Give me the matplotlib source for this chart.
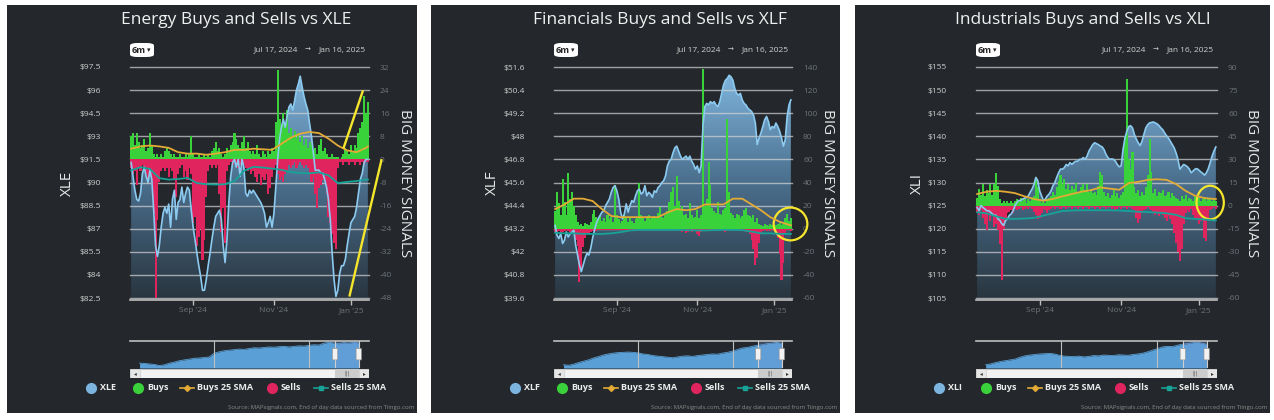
import numpy as np
import pandas as pd
import matplotlib
matplotlib.use("Agg")
import matplotlib.pyplot as plt
from matplotlib.patches import Rectangle, FancyBboxPatch, Ellipse, Polygon
from matplotlib.colors import LinearSegmentedColormap
from matplotlib.lines import Line2D

plt.rcParams['font.family'] = ['Open Sans', 'DejaVu Sans']

W, H, DPI = 1274, 420, 100

# ---------------- dates (trading days shown in the 6m window) ----------------
HOLIDAYS = ['2024-09-02', '2024-11-28', '2024-12-25', '2025-01-01', '2025-01-09']
dates = pd.bdate_range('2024-07-17', '2025-01-16')
dates = dates[~dates.isin(pd.to_datetime(HOLIDAYS))]
MONTH_TICKS = ['2024-09', '2024-11', '2025-01']
MONTH_LABELS = ["Sep '24", "Nov '24", "Jan '25"]
SMA_IDX = list(range(0, 126, 5)) + [126]

# ---------------- Energy / XLE ----------------
xle_price = [91.3, 90.4, 89.5, 88.9, 88.8, 89.3, 90.6, 91.0, 90.4, 90.0,
             90.8, 90.2, 88.2, 85.9, 85.2, 85.9, 87.1, 88.0, 88.4, 88.0,
             88.6, 87.1, 88.9, 89.5, 87.6, 88.7, 88.9, 89.7, 88.7, 89.3,
             89.7, 89.5, 88.2, 87.1, 86.3, 85.4, 84.6, 83.9, 83.0, 83.0,
             83.7, 84.6, 85.4, 86.3, 87.1, 87.8, 88.0, 88.2, 87.6, 85.9,
             84.8, 86.3, 88.7, 90.4, 91.3, 91.5, 91.0, 91.5, 90.4, 91.5,
             91.0, 89.3, 89.1, 89.5, 89.3, 89.5, 89.3, 89.1, 88.9, 88.7,
             88.4, 88.0, 87.1, 87.4, 87.8, 87.1, 88.0, 89.7, 91.5, 92.8,
             93.6, 94.1, 93.6, 94.3, 94.9, 95.1, 94.7, 95.3, 96.0, 96.4,
             96.9, 96.2, 95.6, 95.1, 94.7, 93.8, 93.0, 91.9, 90.8, 90.8,
             90.8, 90.6, 90.6, 90.2, 89.7, 88.9, 87.6, 85.4, 83.7, 82.6,
             83.0, 84.1, 84.6, 84.6, 85.0, 85.9, 86.7, 87.4, 87.6, 87.8,
             88.4, 89.3, 90.2, 90.6, 91.3, 91.5, 91.5]
xle_buys = [8, 9, 5, 9, 6, 4, 5, 7, 3, 4, 9, 5, 2, 1, 2, 1, 2, 1, 3, 4,
            3, 2, 1, 2, 1, 1, 2, 1, 1, 2, 1, 2, 8, 2, 1, 1, 2, 1, 1, 2,
            1, 2, 1, 3, 4, 6, 3, 4, 2, 1, 2, 4, 3, 5, 6, 9, 7, 5, 4, 6,
            8, 4, 6, 3, 2, 3, 2, 5, 2, 1, 3, 2, 1, 3, 2, 4, 3, 13, 31, 14,
            12, 16, 11, 17, 9, 11, 8, 10, 7, 9, 6, 8, 5, 7, 4, 6, 5, 3, 4, 2,
            5, 7, 3, 4, 2, 1, 1, 2, 1, 1, 1, 0, 1, 2, 4, 3, 2, 5, 3, 5,
            4, 9, 11, 13, 22, 16, 20]
xle_sells = [-3, -5, -4, -9, -3, -4, -2, -3, -5, -7, -4, -9, -19, -48, -21, -8, -4, -3, -4, -3,
             -6, -3, -4, -7, -13, -5, -3, -2, -6, -4, -7, -3, -5, -22, -20, -30, -27, -24, -35, -28,
             -13, -4, -2, -3, -2, -3, -2, -12, -25, -17, -29, -4, -2, -1, -2, -1, -2, -3, -2, -1,
             -2, -3, -4, -3, -5, -4, -6, -8, -5, -9, -6, -7, -5, -12, -10, -6, -3, -2, -5, -7,
             -6, -8, -5, -4, -2, -3, -2, -1, -3, -2, -1, -2, -3, -2, -3, -5, -8, -6, -12, -17,
             -10, -9, -7, -8, -12, -20, -22, -26, -29, -31, -3, -1, -1, -2, -1, -1, -2, -1, -1, -2,
             -1, -1, -2, -1, -2, -1, -1]
xle_buys_sma = [3.7, 4.5, 4.8, 4.5, 4.0, 2.5, 2.0, 2.0, 1.6, 2.0, 2.5, 3.3, 3.3, 3.7,
                3.5, 3.3, 5.4, 7.5, 8.9, 9.5, 9.1, 7.2, 4.8, 3.1, 2.5, 4.0, 4.5]
xle_sells_sma = [-3.8, -2.7, -3.3, -6.5, -7.0, -6.8, -6.4, -8.2, -8.6, -8.7, -8.6, -7.5, -4.0, -2.6,
                 -2.8, -3.2, -3.6, -4.4, -4.7, -4.8, -4.5, -5.5, -8.2, -7.8, -7.5, -7.0, -7.0]
xle_nav = [0.18, 0.17, 0.15, 0.13, 0.09, 0.12, 0.18, 0.22, 0.27, 0.30, 0.33, 0.36, 0.37, 0.39,
           0.41, 0.55, 0.60, 0.64, 0.66, 0.68, 0.70, 0.69, 0.72, 0.75, 0.74, 0.76, 0.78, 0.77,
           0.79, 0.80, 0.78, 0.80, 0.82, 0.81, 0.84, 0.86, 0.85, 0.92, 0.95, 0.93, 0.90, 0.94,
           0.92, 0.95, 0.93]
xle_price_ticks = [97.5, 96, 94.5, 93, 91.5, 90, 88.5, 87, 85.5, 84, 82.5]
xle_signal_ticks = [32, 24, 16, 8, 0, -8, -16, -24, -32, -40, -48]

# ---------------- Financials / XLF ----------------
xlf_price = [43.37, 42.86, 42.69, 42.94, 42.43, 42.60, 43.03, 42.77, 42.94, 43.03,
             43.12, 42.34, 41.83, 41.31, 40.97, 41.31, 41.66, 41.92, 41.83, 42.17,
             42.69, 43.12, 43.46, 43.72, 43.89, 44.06, 44.14, 44.40, 44.57, 44.74,
             45.09, 45.34, 45.43, 45.17, 44.74, 44.06, 43.72, 43.97, 44.49, 44.06,
             44.40, 44.66, 44.57, 44.91, 45.17, 45.26, 45.00, 45.09, 45.43, 44.91,
             45.09, 45.00, 44.83, 45.17, 45.09, 45.34, 45.43, 45.60, 45.69, 45.94,
             46.46, 46.71, 46.80, 47.14, 47.40, 47.49, 47.23, 46.97, 46.80, 46.89,
             46.97, 46.80, 46.97, 46.71, 46.54, 46.29, 46.46, 46.11, 46.46, 48.51,
             49.54, 49.71, 49.63, 49.80, 49.71, 49.80, 49.63, 49.54, 49.80, 50.23,
             50.66, 50.91, 51.00, 51.17, 51.09, 50.91, 50.49, 50.23, 50.14, 50.23,
             49.89, 49.71, 49.63, 49.46, 49.37, 49.29, 49.11, 48.69, 47.57, 47.91,
             48.17, 48.51, 48.86, 49.03, 48.77, 48.34, 48.51, 48.43, 48.69, 48.51,
             48.26, 47.91, 47.49, 47.83, 49.03, 49.63, 49.89]
xlf_buys = [15, 32, 22, 12, 43, 23, 12, 48, 26, 32, 20, 12, 6, 3, 4, 2, 5, 4, 3, 6,
            13, 16, 10, 8, 11, 7, 9, 6, 12, 8, 10, 6, 38, 12, 8, 5, 7, 12, 9, 6,
            9, 7, 5, 8, 10, 40, 12, 9, 7, 11, 12, 8, 10, 11, 9, 14, 19, 10, 9, 12,
            15, 23, 32, 36, 20, 46, 24, 16, 20, 12, 13, 9, 22, 12, 9, 10, 16, 9, 12, 138,
            20, 26, 58, 38, 18, 15, 14, 23, 13, 12, 16, 18, 95, 32, 14, 12, 9, 13, 12, 9,
            11, 16, 18, 12, 11, 9, 12, 6, 9, 4, 3, 2, 4, 3, 2, 4, 3, 2, 3, 4,
            5, 3, 4, 9, 13, 7, 9]
xlf_sells = [-3, -4, -2, -5, -3, -2, -1, -2, -3, -2, -4, -10, -15, -46, -36, -16, -8, -4, -5, -3,
             -2, -1, -2, -1, -1, -1, -1, -1, -1, -1, -1, -1, -1, -1, -1, -1, -1, -1, -1, -1,
             -1, -1, -1, -1, -1, -1, -1, -1, -1, -1, -1, -1, -1, -1, -1, -1, -1, -1, -1, -1,
             -1, -1, -1, -1, -1, -1, -1, -2, -3, -2, -4, -3, -2, -3, -1, -2, -5, -6, -3, -1,
             -1, -1, -1, -1, -1, -1, -1, -1, -1, -1, -2, -3, -2, -1, -1, -1, -1, -1, -1, -1,
             -2, -1, -3, -2, -5, -10, -18, -31, -25, -12, -4, -2, -1, -2, -1, -2, -1, -2, -3, -8,
             -22, -44, -30, -5, -1, -1, -2]
xlf_buys_sma = [17, 21, 26, 26, 24, 17, 11, 10, 10, 10, 10, 10, 14, 17,
                16, 17, 21, 21, 21, 26, 26, 21, 16, 10, 6, 3.4, 3]
xlf_sells_sma = [-3.5, -4, -4, -4.5, -4.5, -4.5, -4, -3, -1.5, -1, -1, -1, -1, -1,
                 -1.2, -1.5, -1.5, -1.2, -1, -1, -1.2, -2.5, -4, -4, -4.5, -4.5, -4.5]
xlf_nav = [0.12, 0.10, 0.14, 0.20, 0.25, 0.30, 0.37, 0.42, 0.48, 0.52, 0.55, 0.57, 0.58, 0.59,
           0.58, 0.56, 0.52, 0.50, 0.46, 0.44, 0.42, 0.40, 0.38, 0.41, 0.44, 0.45, 0.43, 0.46,
           0.48, 0.50, 0.52, 0.51, 0.55, 0.58, 0.62, 0.68, 0.74, 0.76, 0.80, 0.84, 0.86, 0.90,
           0.92, 0.95, 0.90]
xlf_price_ticks = [51.6, 50.4, 49.2, 48, 46.8, 45.6, 44.4, 43.2, 42, 40.8, 39.6]
xlf_signal_ticks = [140, 120, 100, 80, 60, 40, 20, 0, -20, -40, -60]

# ---------------- Industrials / XLI ----------------
xli_price = [124.6, 123.9, 125.0, 124.6, 124.3, 123.9, 123.9, 123.6, 123.2, 122.9,
             122.9, 122.1, 121.8, 121.1, 120.7, 121.8, 122.1, 122.9, 123.2, 123.9,
             125.0, 125.7, 126.1, 126.1, 126.4, 126.6, 126.8, 127.1, 127.9, 128.6,
             129.6, 131.1, 130.4, 128.2, 127.1, 126.1, 126.4, 127.1, 127.5, 128.2,
             129.3, 130.0, 131.1, 132.1, 132.9, 132.9, 133.2, 133.9, 133.6, 134.3,
             133.9, 134.3, 134.6, 134.6, 135.0, 135.0, 135.4, 135.0, 135.7, 136.8,
             137.5, 138.2, 138.6, 138.4, 138.2, 137.9, 137.7, 137.1, 136.1, 135.4,
             135.0, 135.1, 135.0, 134.6, 133.9, 133.4, 133.6, 137.1, 139.6, 141.1,
             142.1, 142.3, 141.8, 140.4, 139.4, 138.6, 138.0, 138.9, 140.4, 141.8,
             142.5, 142.9, 143.0, 143.1, 142.9, 142.7, 142.3, 141.8, 141.4, 140.7,
             140.1, 139.6, 138.9, 138.2, 137.5, 136.4, 135.0, 132.9, 133.4, 133.9,
             133.7, 133.4, 132.9, 132.1, 132.5, 132.9, 133.0, 132.7, 132.3, 132.0,
             131.6, 132.1, 133.0, 134.3, 135.7, 136.8, 137.7]
xli_buys = [5, 11, 7, 14, 6, 10, 8, 14, 7, 14, 21, 13, 4, 2, 3, 2, 3, 2, 3, 2,
            3, 4, 3, 5, 3, 4, 2, 4, 3, 5, 6, 18, 12, 4, 2, 3, 2, 4, 5, 6,
            9, 7, 12, 16, 20, 14, 17, 11, 14, 10, 13, 11, 15, 9, 8, 12, 14, 10, 14, 9,
            11, 8, 9, 7, 13, 22, 20, 9, 6, 8, 5, 7, 11, 6, 8, 5, 7, 9, 45, 82,
            30, 24, 35, 12, 8, 10, 6, 9, 7, 12, 20, 43, 22, 8, 11, 6, 9, 8, 10, 6,
            7, 9, 5, 8, 6, 5, 4, 3, 6, 4, 7, 3, 5, 4, 3, 6, 4, 5, 3, 4,
            5, 3, 4, 5, 3, 4, 3]
xli_sells = [-4, -6, -3, -8, -12, -16, -5, -10, -7, -14, -12, -16, -25, -48, -15, -8, -5, -4, -3, -5,
             -2, -3, -2, -1, -3, -2, -1, -2, -1, -2, -4, -6, -9, -8, -5, -2, -3, -5, -3, -2,
             -1, -2, -1, -1, -2, -1, -1, -2, -1, -1, -2, -1, -1, -2, -1, -1, -2, -1, -1, -2,
             -1, -1, -2, -1, -1, -2, -1, -1, -2, -1, -1, -2, -1, -3, -2, -1, -2, -1, -1, -2,
             -1, -1, -2, -3, -8, -11, -9, -5, -3, -2, -1, -2, -3, -4, -6, -5, -7, -4, -6, -8,
             -10, -7, -9, -12, -18, -24, -30, -36, -28, -12, -5, -3, -4, -2, -6, -9, -8, -12, -10, -6,
             -21, -23, -8, -3, -2, -1, -2]
xli_buys_sma = [7.5, 9, 9.6, 9, 8.1, 6, 4.3, 3.2, 4.3, 6, 7.5, 9, 10, 11.8,
                11, 10.3, 14.6, 15.4, 16.7, 17.1, 16.7, 14, 9.6, 6.4, 4.9, 4.3, 4.3]
xli_sells_sma = [-4.3, -5, -7, -8.6, -8.6, -8.4, -8, -6.5, -5, -3.5, -3.2, -3, -3, -3,
                 -3, -3.2, -3.5, -4, -4.2, -4.5, -5, -6, -8.2, -8.6, -9, -9.6, -9.6]
xli_nav = [0.12, 0.15, 0.20, 0.24, 0.27, 0.30, 0.33, 0.40, 0.45, 0.48, 0.50, 0.52, 0.53, 0.54,
           0.52, 0.47, 0.44, 0.43, 0.42, 0.44, 0.41, 0.43, 0.46, 0.45, 0.48, 0.47, 0.46, 0.49,
           0.48, 0.47, 0.50, 0.52, 0.55, 0.60, 0.66, 0.72, 0.78, 0.80, 0.79, 0.84, 0.88, 0.90,
           0.93, 0.96, 0.92, 0.88]
xli_price_ticks = [155, 150, 145, 140, 135, 130, 125, 120, 115, 110, 105]
xli_signal_ticks = [90, 75, 60, 45, 30, 15, 0, -15, -30, -45, -60]

# ---------------- styling ----------------
BG = '#24282c'
GREEN = '#3ad23a'
RED = '#e0245e'
ORANGE = '#e3aa35'
TEAL = '#18a398'
LINE_BLUE = '#8ccaf0'
LEGEND_BLUE = '#7cb5e0'
YELLOW = '#f5e62c'
AREA_CMAP = LinearSegmentedColormap.from_list('area', ['#29353f', '#4a6e8c', '#82b9e2'])

PANELS = [
    dict(title='Energy Buys and Sells vs XLE', ticker='XLE', price=xle_price, buys=xle_buys,
         sells=xle_sells, bsma=xle_buys_sma, ssma=xle_sells_sma, nav=xle_nav,
         pt=xle_price_ticks, st=xle_signal_ticks,
         bg=(7, 5, 417, 413), plot=(130, 369), title_x=236, ylab_x=67, sig_x=404,
         notes=[('line', [(113.2, 4.2), (123.2, 23.5)]), ('line', [(116.3, -47.1), (133.2, -0.3)])]),
    dict(title='Financials Buys and Sells vs XLF', ticker='XLF', price=xlf_price, buys=xlf_buys,
         sells=xlf_sells, bsma=xlf_buys_sma, ssma=xlf_sells_sma, nav=xlf_nav,
         pt=xlf_price_ticks, st=xlf_signal_ticks,
         bg=(431, 5, 840, 413), plot=(554, 792), title_x=660, ylab_x=492, sig_x=828,
         notes=[('ellipse', (125.8, 4.1, 18.0, 28.4))]),
    dict(title='Industrials Buys and Sells vs XLI', ticker='XLI', price=xli_price, buys=xli_buys,
         sells=xli_sells, bsma=xli_buys_sma, ssma=xli_sells_sma, nav=xli_nav,
         pt=xli_price_ticks, st=xli_signal_ticks,
         bg=(855, 5, 1270, 413), plot=(976, 1217), title_x=1083, ylab_x=917, sig_x=1251,
         notes=[('ellipse', (123.0, 2.0, 14.4, 21.8))]),
]

NAV_GRID = [0.352, 0.751]
NAV_RANGE = (0.858, 0.957)
NAV_START = 0.04

PLOT_TOP, PLOT_BOT = 67, 300
NAV_TOP, NAV_BOT = 341, 368
SCROLL_TOP, SCROLL_BOT = 369, 378

fig = plt.figure(figsize=(W / DPI, H / DPI), dpi=DPI)
fig.patch.set_facecolor('white')


def frect(x0, y0, x1, y1):
    return [x0 / W, 1 - y1 / H, (x1 - x0) / W, (y1 - y0) / H]


def fx(x):
    return x / W


def fy(y):
    return 1 - y / H


def bare(ax):
    ax.set_facecolor('none')
    ax.set_axis_off()


tick_pos = [int(np.argmax(dates.strftime('%Y-%m') == m)) for m in MONTH_TICKS]

for g in PANELS:
    bx0, by0, bx1, by1 = g['bg']
    fig.add_artist(Rectangle((fx(bx0), fy(by1)), (bx1 - bx0) / W, (by1 - by0) / H,
                             transform=fig.transFigure, facecolor=BG, edgecolor='none', zorder=-10))
    px0, px1 = g['plot']
    rect = frect(px0, PLOT_TOP, px1, PLOT_BOT)
    price = np.array(g['price'], float)
    n = len(price)
    x = np.arange(n)
    xl = (-0.6, n - 1 + 0.6)
    pt, st = g['pt'], g['st']
    frac = 2.0 / (PLOT_BOT - PLOT_TOP - 2)
    pyl = (pt[-1] - (pt[0] - pt[-1]) * frac, pt[0])
    syl = (st[-1] - (st[0] - st[-1]) * frac, st[0])

    # ---- price area with gradient ----
    ax_p = fig.add_axes(rect)
    ax_p.set_facecolor('none')
    grad = np.linspace(1, 0, 256)[:, None]
    im = ax_p.imshow(grad, extent=[0, n - 1, pyl[0], pyl[1]], aspect='auto', cmap=AREA_CMAP,
                     vmin=0, vmax=1, zorder=1, interpolation='bilinear')
    verts = np.column_stack([np.r_[x, x[::-1]], np.r_[price, np.full(n, pyl[0])]])
    clip = Polygon(verts, closed=True, transform=ax_p.transData, facecolor='none', edgecolor='none')
    ax_p.add_patch(clip)
    im.set_clip_path(clip)
    for t in pt:
        ax_p.axhline(t, color='#d5d5d5', lw=1.0, alpha=0.7, zorder=2, clip_on=False)
    ax_p.set_xlim(*xl)
    ax_p.set_ylim(*pyl)
    ax_p.set_yticks(pt)
    ax_p.set_yticklabels(['$%g' % t for t in pt])
    ax_p.tick_params(axis='y', length=0, pad=21, labelsize=6, labelcolor='#cfcfcf')
    ax_p.set_xticks(tick_pos)
    ax_p.set_xticklabels(MONTH_LABELS)
    ax_p.tick_params(axis='x', length=3.6, width=1, color='#bdbdbd', labelsize=6,
                     labelcolor='#6e7378', pad=1.5)
    for s in ['top', 'left', 'right']:
        ax_p.spines[s].set_visible(False)
    ax_p.spines['bottom'].set_color('#bdbdbd')
    ax_p.spines['bottom'].set_linewidth(1.2)

    # ---- bars (signals) ----
    ax_s = fig.add_axes(rect)
    ax_s.set_facecolor('none')
    ax_s.bar(x, g['buys'], width=1.1, color=GREEN, linewidth=0, zorder=3, antialiased=False)
    ax_s.bar(x, g['sells'], width=1.1, color=RED, linewidth=0, zorder=3, antialiased=False)
    ax_s.set_xlim(*xl)
    ax_s.set_ylim(*syl)
    ax_s.yaxis.tick_right()
    ax_s.set_yticks(st)
    ax_s.set_yticklabels(['%g' % t for t in st])
    ax_s.tick_params(axis='y', length=0, pad=8, labelsize=6, labelcolor='#6f747a')
    ax_s.xaxis.set_visible(False)
    for s in ax_s.spines.values():
        s.set_visible(False)

    # ---- price line ----
    ax_l = fig.add_axes(rect)
    bare(ax_l)
    ax_l.plot(x, price, color=LINE_BLUE, lw=1.2, solid_joinstyle='round')
    ax_l.set_xlim(*xl)
    ax_l.set_ylim(*pyl)

    # ---- SMA lines + annotations ----
    ax_m = fig.add_axes(rect)
    bare(ax_m)
    ax_m.plot(SMA_IDX, g['bsma'], color=ORANGE, lw=1.3)
    ax_m.plot(SMA_IDX, g['ssma'], color=TEAL, lw=1.3)
    ax_m.set_xlim(*xl)
    ax_m.set_ylim(*syl)
    for kind, spec in g['notes']:
        if kind == 'line':
            (xa, ya), (xb, yb) = spec
            ax_m.plot([xa, xb], [ya, yb], color=YELLOW, lw=1.7, clip_on=False)
        else:
            cx, cy, ew, eh = spec
            ax_m.add_patch(Ellipse((cx, cy), ew, eh, facecolor='none', edgecolor=YELLOW,
                                   lw=1.6, clip_on=False))

    # ---- texts ----
    fig.text(fx(g['title_x']), fy(20), g['title'], ha='center', va='center', fontsize=12.5,
             color='#f0f0f0')
    fig.text(fx(g['ylab_x']), fy(183), g['ticker'], rotation=90, ha='center', va='center',
             fontsize=11, color='#e8e8e8')
    fig.text(fx(g['sig_x']), fy(183), 'BIG MONEY SIGNALS', rotation=270, ha='center',
             va='center', fontsize=11, color='#e8e8e8')
    fig.add_artist(FancyBboxPatch((fx(px0), fy(57)), 24 / W, 14 / H,
                                  boxstyle='round,pad=0,rounding_size=0.006',
                                  transform=fig.transFigure, facecolor='white',
                                  edgecolor='none', zorder=5))
    fig.text(fx(px0 + 9), fy(50.5), '6m', ha='center', va='center', fontsize=6.5,
             fontweight='bold', color='#222222', zorder=6)
    fig.text(fx(px0 + 19), fy(50.5), '▾', ha='center', va='center', fontsize=5,
             color='#222222', zorder=6, family=['DejaVu Sans'])
    fig.text(fx(px1 - 3), fy(50), 'Jan 16, 2025', ha='right', va='center', fontsize=6,
             color='#d0d0d0')
    fig.text(fx(px1 - 61), fy(50), '→', ha='center', va='center', fontsize=5,
             color='#d0d0d0', family=['DejaVu Sans'])
    fig.text(fx(px1 - 71), fy(50), 'Jul 17, 2024', ha='right', va='center', fontsize=6,
             color='#d0d0d0')

    # ---- navigator ----
    ax_n = fig.add_axes(frect(px0, NAV_TOP, px1, NAV_BOT))
    bare(ax_n)
    ax_n.set_xlim(0, 1)
    ax_n.set_ylim(0, 1)
    nav = np.array(g['nav'])
    nx = np.linspace(NAV_START, NAV_RANGE[1], len(nav))
    ax_n.fill_between(nx, nav, 0, color='#5aa0d6', lw=0, zorder=1)
    ax_n.plot(nx, nav, color='#5aa0d6', lw=0.6, zorder=1)
    ax_n.axhline(1, color='#bdbdbd', lw=1.2, zorder=3, clip_on=False)
    for gx in NAV_GRID:
        ax_n.axvline(gx, color='#bfbfbf', lw=0.8, zorder=2)
    ax_n.axvspan(NAV_RANGE[0], NAV_RANGE[1], color=(0.45, 0.6, 0.85), alpha=0.3, lw=0, zorder=2)
    for hx in NAV_RANGE:
        ax_n.axvline(hx, color='#cfcfcf', lw=0.8, zorder=3)
        ax_n.add_patch(FancyBboxPatch((hx - 0.011, 0.3), 0.022, 0.42,
                                      boxstyle='round,pad=0,rounding_size=0.004',
                                      facecolor='#f2f2f2', edgecolor='#999999', lw=0.5,
                                      zorder=4, clip_on=False))
    # scrollbar
    ax_b = fig.add_axes(frect(px0, SCROLL_TOP, px1, SCROLL_BOT))
    bare(ax_b)
    ax_b.set_xlim(0, 1)
    ax_b.set_ylim(0, 1)
    ax_b.add_patch(Rectangle((0, 0), 1, 1, facecolor='#f2f2f2', edgecolor='#dcdcdc', lw=0.5))
    ax_b.add_patch(Rectangle((NAV_RANGE[0], 0), NAV_RANGE[1] - NAV_RANGE[0], 1,
                             facecolor='#cccccc', edgecolor='none'))
    ax_b.add_patch(Rectangle((0, 0), 0.042, 1, facecolor='#e6e6e6', edgecolor='#cccccc', lw=0.5))
    ax_b.add_patch(Rectangle((0.958, 0), 0.042, 1, facecolor='#e6e6e6', edgecolor='#cccccc', lw=0.5))
    ax_b.text(0.021, 0.5, '◂', ha='center', va='center', fontsize=4, color='#333333',
              family=['DejaVu Sans'])
    ax_b.text(0.979, 0.5, '▸', ha='center', va='center', fontsize=4, color='#333333',
              family=['DejaVu Sans'])
    ax_b.text(sum(NAV_RANGE) / 2, 0.5, '|||', ha='center', va='center', fontsize=3.5,
              color='#555555', family=['DejaVu Sans'])

    # ---- legend ----
    ly = fy(388)
    left = bx0
    items = [('o', LEGEND_BLUE, g['ticker'], 84),
             ('o', GREEN, 'Buys', 131),
             ('D', ORANGE, 'Buys 25 SMA', 180),
             ('o', RED, 'Sells', 265),
             ('s', TEAL, 'Sells 25 SMA', 314)]
    for mk, col, lab, rx in items:
        cx = left + rx
        if mk == 'o':
            fig.add_artist(Line2D([fx(cx)], [ly], transform=fig.transFigure, marker='o',
                                  markersize=7, color=col, linestyle='none'))
            tx = cx + 9
        else:
            fig.add_artist(Line2D([fx(cx - 7), fx(cx + 7)], [ly, ly], transform=fig.transFigure,
                                  color=col, lw=1.2))
            fig.add_artist(Line2D([fx(cx)], [ly], transform=fig.transFigure, marker=mk,
                                  markersize=3, color=col, linestyle='none'))
            tx = cx + 10
        fig.text(fx(tx), ly, lab, ha='left', va='center', fontsize=6.5, fontweight='bold',
                 color='#ececec')
    fig.text(fx(bx1 - 3), fy(408), 'Source: MAPsignals.com, End of day data sourced from Tiingo.com',
             ha='right', va='center', fontsize=4.3, color='#8a8a8a')

fig.savefig('out.png', dpi=DPI, facecolor='white')
